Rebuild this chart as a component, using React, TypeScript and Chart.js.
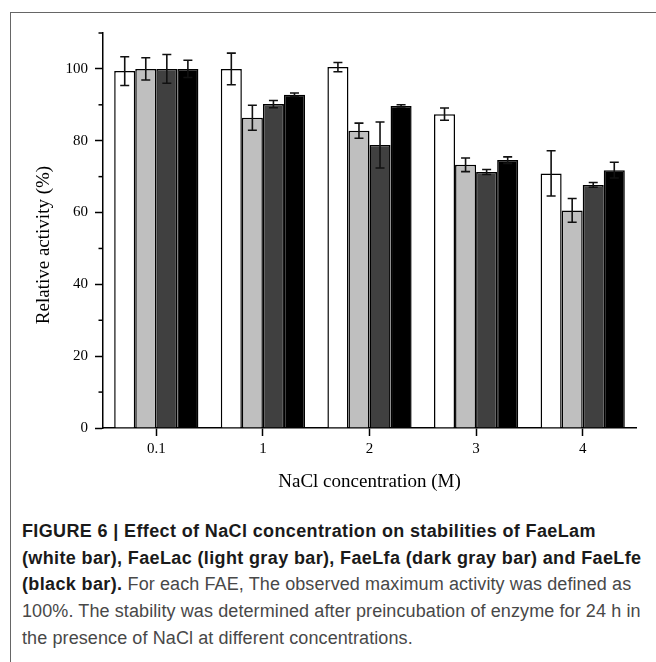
import React, { useEffect, useRef } from "react";
import { Chart, registerables } from "chart.js";

Chart.register(...registerables);

const categories = ["0.1", "1", "2", "3", "4"];
const seriesNames = ["FaeLam", "FaeLac", "FaeLfa", "FaeLfe"];
const faeLam = [99.4, 100, 100.5, 87.4, 70.9];
const faeLamErr = [4.0, 4.4, 1.3, 1.7, 6.3];
const faeLac = [100, 86.4, 82.8, 73.3, 60.6];
const faeLacErr = [3.1, 3.5, 2.1, 1.9, 3.3];
const faeLfa = [100, 90.2, 78.8, 71.3, 67.7];
const faeLfaErr = [4.0, 1.0, 6.4, 0.7, 0.65];
const faeLfe = [100, 92.8, 89.7, 74.6, 71.8];
const faeLfeErr = [2.4, 0.5, 0.3, 0.9, 2.2];
const yMajorTicks = [0, 20, 40, 60, 80, 100];
const yMinorTicks = [10, 30, 50, 70, 90, 110];
const xTitle = "NaCl concentration (M)";
const yTitle = "Relative activity (%)";

const SERIF = "'Liberation Serif', 'Times New Roman', serif";

const errorBarPlugin = {
  id: "errorBars",
  afterDatasetsDraw(chart: any) {
    const ctx = chart.ctx;
    const ys = chart.scales.y;
    ctx.save();
    ctx.strokeStyle = "#111";
    ctx.lineWidth = 1.6;
    chart.data.datasets.forEach((ds: any, i: number) => {
      const meta = chart.getDatasetMeta(i);
      meta.data.forEach((bar: any, j: number) => {
        const v = ds.data[j];
        const e = ds.errors[j];
        const x = bar.x;
        const yTop = ys.getPixelForValue(v + e);
        const yBot = ys.getPixelForValue(v - e);
        ctx.beginPath();
        ctx.moveTo(x, yTop);
        ctx.lineTo(x, yBot);
        ctx.moveTo(x - 4.5, yTop);
        ctx.lineTo(x + 4.5, yTop);
        ctx.moveTo(x - 4.5, yBot);
        ctx.lineTo(x + 4.5, yBot);
        ctx.stroke();
      });
    });
    ctx.restore();
  },
};

const decorPlugin = {
  id: "decor",
  afterDraw(chart: any) {
    const ctx = chart.ctx;
    const ys = chart.scales.y;
    const area = chart.chartArea;
    ctx.save();
    ctx.strokeStyle = "#000";
    ctx.lineWidth = 1.5;
    yMinorTicks.forEach((v) => {
      const py = ys.getPixelForValue(v);
      ctx.beginPath();
      ctx.moveTo(area.left, py);
      ctx.lineTo(area.left - 4.5, py);
      ctx.stroke();
    });
    ctx.fillStyle = "#000";
    ctx.font = `19px ${SERIF}`;
    ctx.textAlign = "center";
    ctx.textBaseline = "alphabetic";
    ctx.fillText(xTitle, (area.left + area.right) / 2, 486.5);
    ctx.translate(49, 245);
    ctx.rotate(-Math.PI / 2);
    ctx.fillText(yTitle, 0, 0);
    ctx.restore();
  },
};

export default function App() {
  const canvasRef = useRef<HTMLCanvasElement | null>(null);

  useEffect(() => {
    document.body.style.margin = "0";
    const canvas = canvasRef.current;
    if (!canvas) return;
    const tickFont = { family: SERIF, size: 15 };
    const mk = (label: string, data: number[], errors: number[], color: string) => ({
      label,
      data,
      errors,
      backgroundColor: color,
      borderColor: "#000",
      borderWidth: 1.5,
      categoryPercentage: 0.79,
      barPercentage: 1.0,
    });
    const chart = new Chart(canvas, {
      type: "bar",
      data: {
        labels: categories,
        datasets: [
          mk(seriesNames[0], faeLam, faeLamErr, "#ffffff"),
          mk(seriesNames[1], faeLac, faeLacErr, "#bfbfbf"),
          mk(seriesNames[2], faeLfa, faeLfaErr, "#404040"),
          mk(seriesNames[3], faeLfe, faeLfeErr, "#000000"),
        ] as any,
      },
      options: {
        animation: false,
        responsive: false,
        maintainAspectRatio: false,
        layout: { padding: { left: 0, right: 20, top: 33, bottom: 0 } },
        plugins: { legend: { display: false }, tooltip: { enabled: false } },
        scales: {
          x: {
            type: "category",
            offset: true,
            grid: {
              offset: false,
              drawOnChartArea: false,
              drawTicks: true,
              tickLength: 8,
              tickColor: "#000",
              tickWidth: 1.5,
            },
            border: { color: "#000", width: 1.5 },
            ticks: { color: "#000", font: tickFont, padding: 4 },
            afterFit: (s: any) => {
              s.height = 72;
            },
          },
          y: {
            min: 0,
            max: 110,
            afterBuildTicks: (s: any) => {
              s.ticks = yMajorTicks.map((v) => ({ value: v }));
            },
            grid: {
              drawOnChartArea: false,
              drawTicks: true,
              tickLength: 8,
              tickColor: "#000",
              tickWidth: 1.5,
            },
            border: { color: "#000", width: 1.5 },
            ticks: { color: "#000", font: tickFont, padding: 7 },
            afterFit: (s: any) => {
              s.width = 103;
            },
          },
        },
      } as any,
      plugins: [errorBarPlugin, decorPlugin],
    });
    return () => chart.destroy();
  }, []);

  const bold = { fontWeight: 700, color: "#1a1a1a", letterSpacing: "0.37px" } as React.CSSProperties;
  return (
    <div style={{ position: "relative", width: 656, height: 662, overflow: "hidden", background: "#fff" }}>
      <canvas
        ref={canvasRef}
        width={656}
        height={500}
        style={{ position: "absolute", left: 0, top: 0, width: 656, height: 500, display: "block" }}
      />
      <div style={{ position: "absolute", left: 10, top: 12, width: 646, height: 1, background: "#666" }} />
      <div style={{ position: "absolute", left: 10, top: 12, width: 1, height: 650, background: "#666" }} />
      <div
        style={{
          position: "absolute",
          left: 22,
          top: 518,
          fontFamily: "'Liberation Sans', Arial, sans-serif",
          fontSize: 18,
          lineHeight: "26.7px",
          letterSpacing: "0.1px",
          color: "#484848",
          whiteSpace: "nowrap",
        }}
      >
        <span style={bold}>FIGURE 6 | Effect of NaCl concentration on stabilities of FaeLam</span>
        <br />
        <span style={bold}>(white bar), FaeLac (light gray bar), FaeLfa (dark gray bar) and FaeLfe</span>
        <br />
        <span style={bold}>(black bar).</span> For each FAE, The observed maximum activity was defined as
        <br />
        100%. The stability was determined after preincubation of enzyme for 24 h in
        <br />
        the presence of NaCl at different concentrations.
      </div>
    </div>
  );
}
